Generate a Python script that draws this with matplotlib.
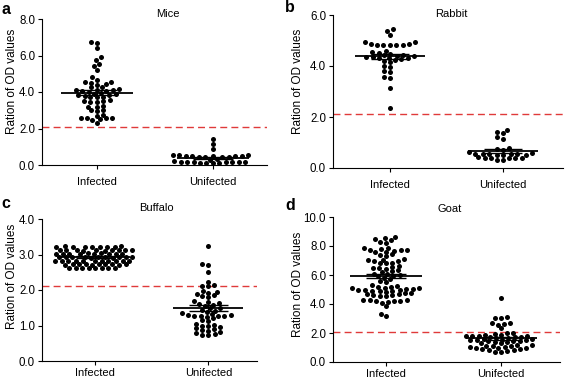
import numpy as np
import matplotlib
matplotlib.use("Agg")
import matplotlib.pyplot as plt

plt.rcParams['font.family'] = ['Liberation Sans', 'DejaVu Sans']

categories = ["Infected", "Unifected"]
titles = ["Mice", "Rabbit", "Buffalo", "Goat"]
panel_letters = ["a", "b", "c", "d"]
ylabel = "Ration of OD values"
cutoffs = [2.08, 2.1, 2.1, 2.08]

mice_infected = [6.75, 6.7, 6.4, 5.9, 5.75, 5.55, 5.4, 5.2, 4.8, 4.65, 4.55, 4.55, 4.5,
                 4.42, 4.4, 4.25, 4.25, 4.15, 4.12, 4.1, 4.1, 4.05, 4.05, 4.0, 3.95, 3.9,
                 3.88, 3.85, 3.85, 3.8, 3.75, 3.7, 3.7, 3.55, 3.5, 3.5, 3.45, 3.45, 3.25,
                 3.2, 3.2, 3.0, 3.0, 2.95, 2.75, 2.7, 2.6, 2.6, 2.58, 2.55, 2.5, 2.45, 2.3]
mice_uninfected = [1.42, 1.15, 0.85, 0.57, 0.55, 0.55, 0.52, 0.5, 0.5, 0.48, 0.48, 0.46,
                   0.45, 0.45, 0.43, 0.35, 0.3, 0.2, 0.18, 0.18, 0.17, 0.16, 0.15, 0.15,
                   0.14, 0.13, 0.12, 0.12, 0.1]
rabbit_infected = [5.44, 5.36, 5.22, 4.95, 4.95, 4.86, 4.84, 4.83, 4.83, 4.83, 4.84, 4.86,
                   4.6, 4.55, 4.5, 4.48, 4.45, 4.42, 4.4, 4.38, 4.36, 4.35, 4.33, 4.32, 4.3,
                   4.28, 4.25, 4.2, 4.15, 4.0, 3.95, 3.8, 3.77, 3.57, 3.52, 3.14, 2.35]
rabbit_uninfected = [1.48, 1.4, 1.36, 1.2, 1.14, 0.8, 0.76, 0.72, 0.62, 0.6, 0.56, 0.55,
                     0.55, 0.54, 0.53, 0.52, 0.52, 0.5, 0.42, 0.41, 0.4, 0.4, 0.39, 0.38,
                     0.3, 0.3]
buffalo_infected = [3.22, 3.21, 3.22, 3.23, 3.21, 3.22, 3.22, 3.21, 3.23,
                    3.12, 3.13, 3.11, 3.12, 3.12, 3.13, 3.11, 3.12, 3.12, 3.13,
                    3.02, 3.01, 3.03, 3.02, 3.02, 3.01, 3.03, 3.02, 3.02, 3.01,
                    2.92, 2.93, 2.91, 2.92, 2.92, 2.93, 2.91, 2.92, 2.92, 2.93, 2.92,
                    2.82, 2.81, 2.83, 2.82, 2.82, 2.81, 2.83, 2.82, 2.82, 2.81, 2.82,
                    2.72, 2.73, 2.71, 2.72, 2.72, 2.73, 2.71, 2.72, 2.72, 2.71,
                    2.62, 2.61, 2.63, 2.62, 2.62, 2.61, 2.63, 2.62]
buffalo_uninfected = [3.24, 2.72, 2.7, 2.5, 2.22, 2.15, 2.12, 2.1, 1.98, 1.95, 1.92, 1.9,
                      1.85, 1.82, 1.8, 1.68, 1.65, 1.62, 1.6, 1.58, 1.55, 1.5, 1.48, 1.45,
                      1.42, 1.38, 1.35, 1.32, 1.3, 1.3, 1.28, 1.28, 1.27, 1.26, 1.25, 1.2,
                      1.15, 1.12, 1.05, 1.02, 1.0, 0.98, 0.95, 0.92, 0.9, 0.88, 0.85, 0.82,
                      0.78, 0.75, 0.74, 0.72]
goat_infected = [8.6, 8.52, 8.45, 8.38, 8.25, 8.2, 7.88, 7.85, 7.78, 7.75, 7.72, 7.7, 7.68,
                 7.62, 7.58, 7.42, 7.38, 7.32, 7.08, 7.05, 7.02, 7.0, 6.98, 6.85, 6.82, 6.8,
                 6.62, 6.55, 6.48, 6.45, 6.4, 6.35, 6.25, 6.2, 6.1, 6.05, 6.0, 5.95, 5.9,
                 5.8, 5.7, 5.6, 5.5, 5.3, 5.25, 5.2, 5.18, 5.12, 5.1, 5.08, 5.05, 5.02, 5.0,
                 4.98, 4.95, 4.92, 4.9, 4.88, 4.85, 4.78, 4.75, 4.72, 4.68, 4.65, 4.6, 4.58,
                 4.55, 4.3, 4.28, 4.25, 4.22, 4.2, 4.18, 4.15, 4.05, 3.85, 3.3, 3.15]
goat_uninfected = [4.42, 3.12, 3.05, 3.02, 2.72, 2.7, 2.62, 2.58, 2.35, 2.02, 1.98, 1.92,
                   1.88, 1.85, 1.82, 1.8, 1.8, 1.78, 1.75, 1.72, 1.7, 1.68, 1.65, 1.62, 1.6,
                   1.55, 1.52, 1.5, 1.5, 1.48, 1.45, 1.42, 1.38, 1.35, 1.3, 1.28, 1.2, 1.15,
                   1.12, 1.1, 1.08, 1.05, 1.02, 1.0, 0.98, 0.95, 0.92, 0.88, 0.85, 0.8, 0.78,
                   0.72, 0.7]

data = [(mice_infected, mice_uninfected), (rabbit_infected, rabbit_uninfected),
        (buffalo_infected, buffalo_uninfected), (goat_infected, goat_uninfected)]
ymax = [8, 6, 4, 10]
ystep = [2, 2, 1, 2]

W, H = 566, 379
fig = plt.figure(figsize=(W / 100, H / 100), dpi=100)

# pixel layout: left, right, top, bottom, xlim
layout = [
    (42, 267, 19, 165, (-0.474, 1.466)),
    (333, 563, 15, 168, (-0.504, 1.53)),
    (42, 257, 219, 361, (-0.47, 1.43)),
    (333, 560, 217, 362, (-0.46, 1.51)),
]
xpad = [5.5, 5.5, 2.0, 2.0]
letter_pos = [(1, 9), (285, 8), (1, 203), (285, 205)]
title_pos = [(168, 14), (451, 14), (156, 208), (450, 209)]
ylabel_pos = [(12, 81), (298, 81), (12, 276), (298, 284)]


def swarm(vals, ax, center, dx_px, dy_px):
    tr = ax.transData
    ypx = np.array([tr.transform((center, v))[1] for v in vals])
    ppu = tr.transform((center + 1, 0))[0] - tr.transform((center, 0))[0]
    order = np.argsort(ypx)
    placed = []
    xs = np.zeros(len(vals))
    for i in order:
        y = ypx[i]
        near = [(px, py) for px, py in placed if abs(py - y) < dy_px]
        cands = [0.0]
        for px, py in near:
            dx = dx_px * np.sqrt(1 - ((py - y) / dy_px) ** 2)
            cands += [px + dx, px - dx]
        cands.sort(key=lambda c: (abs(c), c))
        chosen = cands[-1]
        for c in cands:
            if all(((c - px) / dx_px) ** 2 + ((y - py) / dy_px) ** 2 >= 1 - 1e-6
                   for px, py in near):
                chosen = c
                break
        placed.append((chosen, y))
        xs[i] = center + chosen / ppu
    return xs


for k in range(4):
    l, r, t, b, xl = layout[k]
    ax = fig.add_axes([l / W, 1 - b / H, (r - l) / W, (b - t) / H])
    ax.set_xlim(*xl)
    ax.set_ylim(0, ymax[k])
    for s in ['top', 'right']:
        ax.spines[s].set_visible(False)
    for s in ['left', 'bottom']:
        ax.spines[s].set_linewidth(0.8)
    ax.set_xticks([0, 1])
    ax.set_xticklabels(categories, fontsize=8)
    yt = np.arange(0, ymax[k] + 0.001, ystep[k])
    ax.set_yticks(yt)
    ax.set_yticklabels([f"{v:.1f}" for v in yt], fontsize=8.3)
    ax.tick_params(axis='both', direction='out', length=3, width=0.8, pad=2)
    ax.tick_params(axis='x', pad=xpad[k])

    ax.axhline(cutoffs[k], color='#e03a3a', lw=1.0, ls=(0, (5, 3)), zorder=2)

    for ci, vals in enumerate(data[k]):
        vals = np.array(vals)
        xs = swarm(vals, ax, ci, 6.5, 4.0)
        ax.scatter(xs, vals, s=13, color='black', linewidths=0, zorder=3, clip_on=False)
        m = vals.mean()
        sem = vals.std(ddof=1) / np.sqrt(len(vals))
        ax.hlines(m, ci - 0.31, ci + 0.31, color='black', lw=1.3, zorder=4)
        ax.hlines([m - sem, m + sem], ci - 0.17, ci + 0.17, color='black', lw=1.0, zorder=4)
        ax.vlines(ci, m - sem, m + sem, color='black', lw=1.0, zorder=4)

    lx, ly = letter_pos[k]
    fig.text(lx / W, 1 - ly / H, panel_letters[k], fontsize=11.5, fontweight='bold',
             ha='left', va='center')
    tx, ty = title_pos[k]
    fig.text(tx / W, 1 - ty / H, titles[k], fontsize=8, ha='center', va='center')
    yx, yy = ylabel_pos[k]
    fig.text(yx / W, 1 - yy / H, ylabel, fontsize=8.5, rotation=90, ha='center', va='center')

fig.savefig("out.png", dpi=100)
